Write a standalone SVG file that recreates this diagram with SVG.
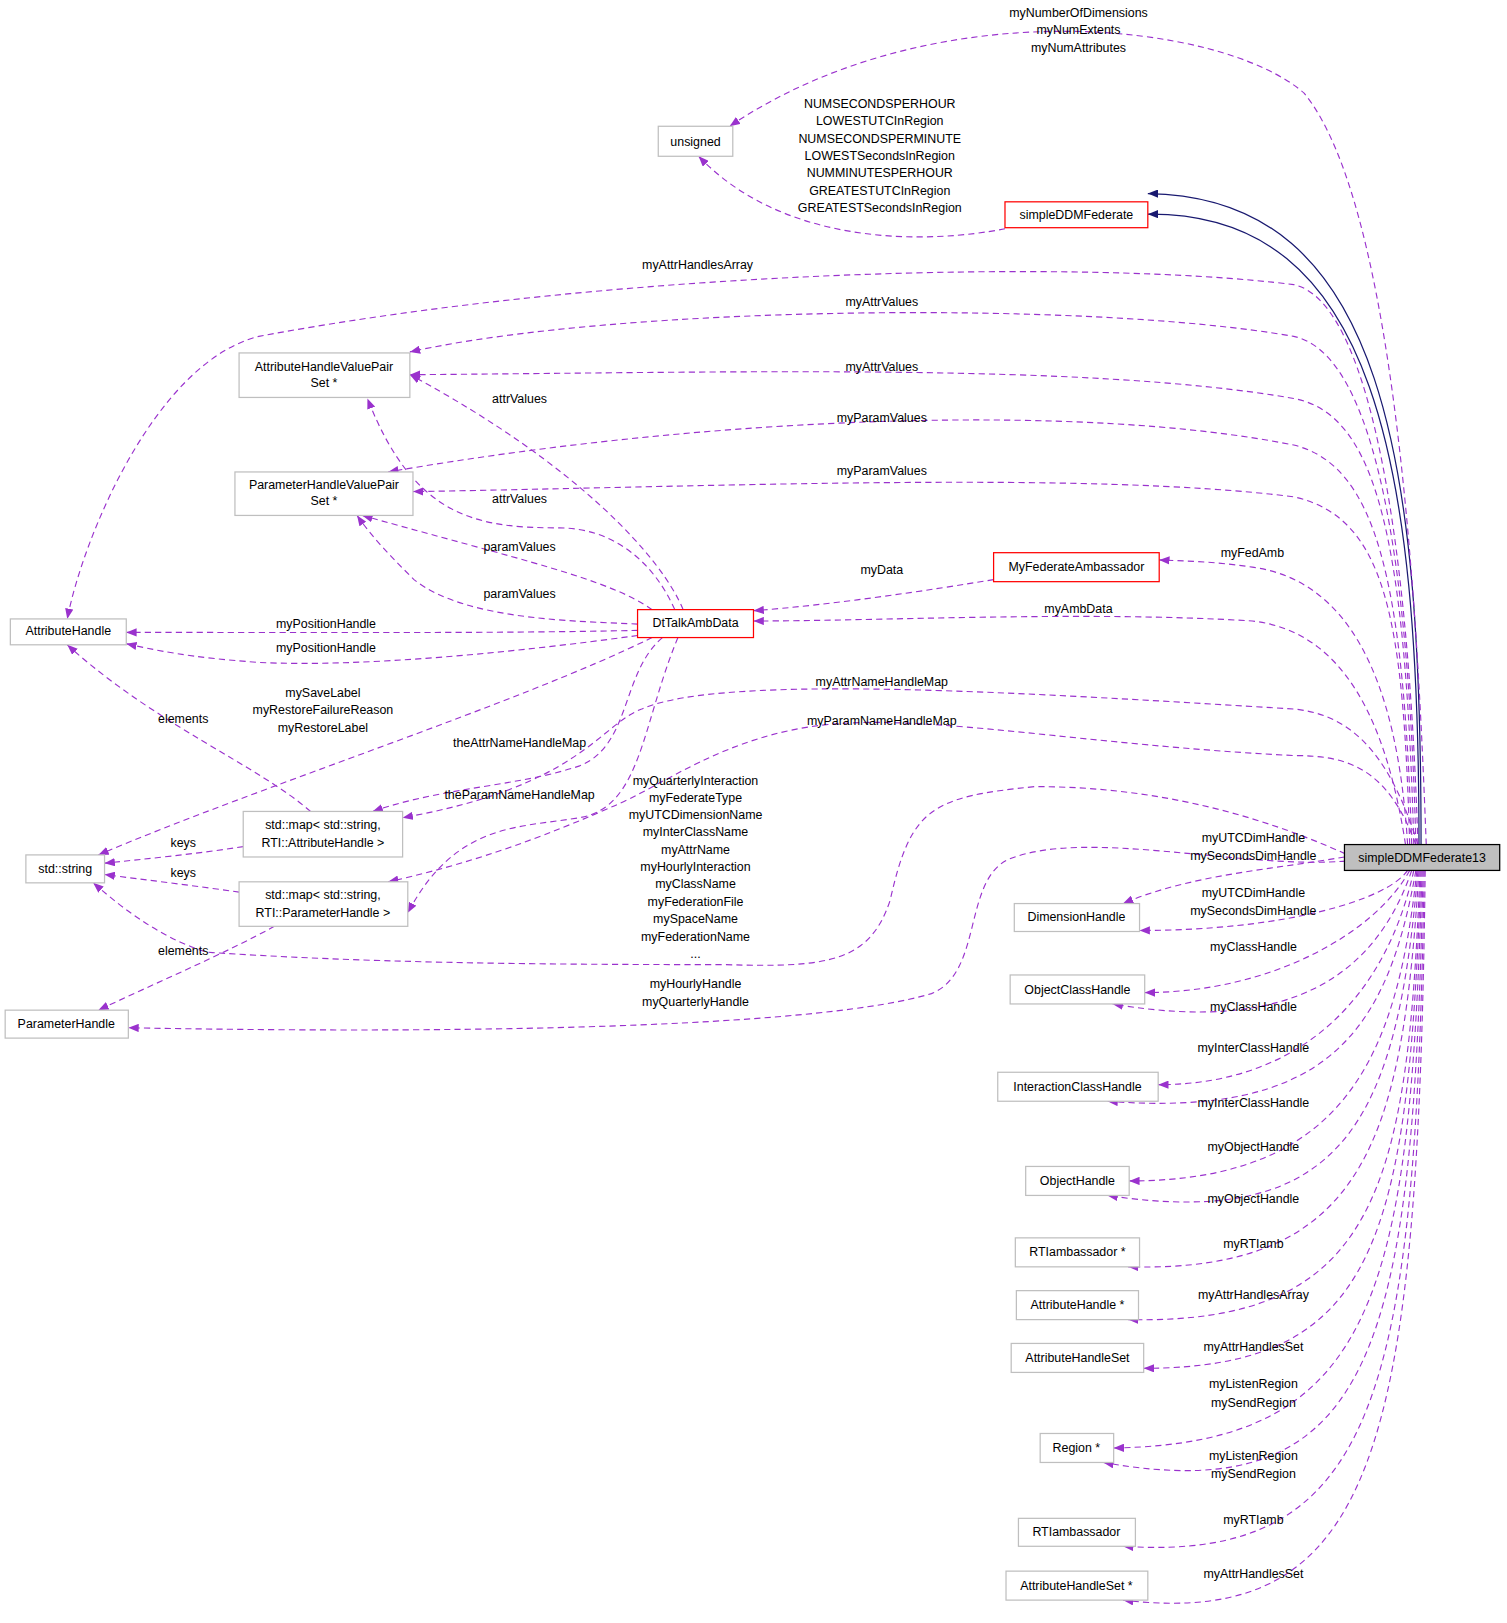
<svg xmlns="http://www.w3.org/2000/svg" width="1507" height="1623" viewBox="0 0 1507 1623">
<style>
text{font-family:"Liberation Sans",Arial,sans-serif;font-size:12px;fill:#000;text-anchor:middle}
.n{fill:#fff;stroke:#bfbfbf;stroke-width:1.2}
.r{fill:#fff;stroke:#ff0000;stroke-width:1.2}
.e{fill:none;stroke:#9a32cd;stroke-width:1.1;stroke-dasharray:6,4;marker-end:url(#pa)}
.s{fill:none;stroke:#191970;stroke-width:1.2;marker-end:url(#na)}
</style>
<defs>
<marker id="pa" markerUnits="userSpaceOnUse" markerWidth="11" markerHeight="8" refX="10" refY="4" orient="auto"><path d="M0,0 L10,4 L0,8 z" fill="#9a32cd"/></marker>
<marker id="na" markerUnits="userSpaceOnUse" markerWidth="11" markerHeight="8" refX="10" refY="4" orient="auto"><path d="M0,0 L10,4 L0,8 z" fill="#191970"/></marker>
</defs>
<g transform="scale(1.035)">
<g id="edges">
<path class="s" d="M1373,816 C1373,450 1340,190 1109,187"/>
<path class="s" d="M1371,816 C1371,450 1330,205 1109,207"/>
<path class="e" d="M1378,816 C1370,600 1350,200 1260,90 C1180,20 900,-10 705,122"/>
<path class="e" d="M971,221 C900,235 760,240 675,151"/>
<path class="e" d="M1370,816 C1360,500 1320,290 1250,275 C1050,250 600,260 250,325 C150,350 80,520 65,598"/>
<path class="e" d="M1368,816 C1360,500 1320,340 1250,325 C1050,290 600,295 396,340"/>
<path class="e" d="M1366,816 C1358,520 1330,400 1250,385 C1050,350 700,360 396,362"/>
<path class="e" d="M1364,816 C1356,560 1330,450 1250,430 C1050,390 700,400 375,456"/>
<path class="e" d="M1362,816 C1356,600 1340,500 1250,480 C1050,455 700,470 399,475"/>
<path class="e" d="M1360,816 C1350,650 1300,560 1210,548 C1170,542 1140,542 1120,541"/>
<path class="e" d="M1358,816 C1340,700 1300,610 1210,600 C1050,590 850,600 728,600"/>
<path class="e" d="M960,560 C900,570 800,585 728,590"/>
<path class="e" d="M660,589 C640,540 560,450 396,362"/>
<path class="e" d="M652,589 C630,540 590,510 540,510 C460,510 400,500 355,385"/>
<path class="e" d="M630,589 C590,560 500,540 350,498"/>
<path class="e" d="M616,603 C560,600 450,600 400,560 C380,540 360,520 345,498"/>
<path class="e" d="M616,609 C500,612 300,611 122,611"/>
<path class="e" d="M616,614 C500,630 350,645 250,640 C180,635 150,628 122,622"/>
<path class="e" d="M630,616 C500,680 250,760 95,826"/>
<path class="e" d="M640,616 C600,650 610,720 560,740 C500,760 430,760 360,784"/>
<path class="e" d="M655,616 C620,700 620,780 560,790 C500,800 440,795 394,882"/>
<path class="e" d="M1370,816 C1340,720 1300,690 1250,685 C1000,670 700,650 620,685 C580,700 560,760 389,790"/>
<path class="e" d="M1368,816 C1340,740 1300,730 1250,730 C1050,720 900,690 800,700 C700,710 640,760 590,780 C500,820 430,840 375,852"/>
<path class="e" d="M300,784 C250,740 150,700 65,623"/>
<path class="e" d="M235,818 C190,825 140,830 101,834"/>
<path class="e" d="M231,862 C190,856 140,850 101,845"/>
<path class="e" d="M265,895 C220,920 150,950 95,976"/>
<path class="e" d="M1300,825 C1200,780 1100,760 1000,760 C900,770 880,780 860,870 C840,930 800,935 700,932 C500,932 350,930 200,920 C150,905 110,870 90,853"/>
<path class="e" d="M1300,832 C1200,840 1050,800 975,830 C930,850 950,940 900,960 C800,990 500,1000 124,993"/>
<path class="e" d="M1299,828 C1230,840 1150,845 1085,873"/>
<path class="e" d="M1360,841 C1340,870 1240,899 1101,899"/>
<path class="e" d="M1362,841 C1330,900 1230,959 1106,959"/>
<path class="e" d="M1364,841 C1330,940 1250,1000 1075,970"/>
<path class="e" d="M1366,841 C1340,960 1260,1048 1119,1048"/>
<path class="e" d="M1368,841 C1340,1000 1280,1080 1070,1064"/>
<path class="e" d="M1369,841 C1350,1020 1300,1141 1091,1141"/>
<path class="e" d="M1370,841 C1350,1080 1300,1190 1070,1155"/>
<path class="e" d="M1371,841 C1355,1100 1320,1230 1090,1224"/>
<path class="e" d="M1372,841 C1360,1150 1330,1280 1090,1275"/>
<path class="e" d="M1373,841 C1360,1200 1330,1322 1105,1322"/>
<path class="e" d="M1374,841 C1362,1250 1330,1395 1076,1399"/>
<path class="e" d="M1375,841 C1365,1300 1330,1460 1066,1413"/>
<path class="e" d="M1376,841 C1368,1350 1330,1510 1085,1494"/>
<path class="e" d="M1377,841 C1370,1400 1330,1575 1085,1546"/>
</g>
<g id="elabels">
<text x="1042" y="16">myNumberOfDimensions</text><text x="1042" y="33">myNumExtents</text><text x="1042" y="50">myNumAttributes</text>
<text x="850" y="104">NUMSECONDSPERHOUR</text><text x="850" y="121">LOWESTUTCInRegion</text><text x="850" y="138">NUMSECONDSPERMINUTE</text><text x="850" y="155">LOWESTSecondsInRegion</text><text x="850" y="171">NUMMINUTESPERHOUR</text><text x="850" y="188">GREATESTUTCInRegion</text><text x="850" y="205">GREATESTSecondsInRegion</text>
<text x="674" y="260">myAttrHandlesArray</text>
<text x="852" y="296">myAttrValues</text><text x="852" y="358">myAttrValues</text>
<text x="852" y="408">myParamValues</text><text x="852" y="459">myParamValues</text>
<text x="1210" y="538">myFedAmb</text><text x="1042" y="592">myAmbData</text><text x="852" y="555">myData</text>
<text x="502" y="389">attrValues</text><text x="502" y="486">attrValues</text>
<text x="502" y="532">paramValues</text><text x="502" y="578">paramValues</text>
<text x="315" y="607">myPositionHandle</text><text x="315" y="630">myPositionHandle</text>
<text x="312" y="673">mySaveLabel</text><text x="312" y="690">myRestoreFailureReason</text><text x="312" y="707">myRestoreLabel</text>
<text x="177" y="699">elements</text><text x="502" y="722">theAttrNameHandleMap</text><text x="502" y="772">theParamNameHandleMap</text>
<text x="852" y="663">myAttrNameHandleMap</text><text x="852" y="700">myParamNameHandleMap</text>
<text x="177" y="818">keys</text><text x="177" y="847">keys</text><text x="177" y="923">elements</text>
<text x="672" y="758">myQuarterlyInteraction</text><text x="672" y="775">myFederateType</text><text x="672" y="791">myUTCDimensionName</text><text x="672" y="808">myInterClassName</text><text x="672" y="825">myAttrName</text><text x="672" y="842">myHourlyInteraction</text><text x="672" y="858">myClassName</text><text x="672" y="875">myFederationFile</text><text x="672" y="892">mySpaceName</text><text x="672" y="909">myFederationName</text><text x="672" y="926">...</text>
<text x="672" y="955">myHourlyHandle</text><text x="672" y="972">myQuarterlyHandle</text>
<text x="1211" y="814">myUTCDimHandle</text><text x="1211" y="831">mySecondsDimHandle</text>
<text x="1211" y="867">myUTCDimHandle</text><text x="1211" y="884">mySecondsDimHandle</text>
<text x="1211" y="919">myClassHandle</text><text x="1211" y="977">myClassHandle</text>
<text x="1211" y="1016">myInterClassHandle</text><text x="1211" y="1070">myInterClassHandle</text>
<text x="1211" y="1112">myObjectHandle</text><text x="1211" y="1162">myObjectHandle</text>
<text x="1211" y="1206">myRTIamb</text><text x="1211" y="1255">myAttrHandlesArray</text><text x="1211" y="1305">myAttrHandlesSet</text>
<text x="1211" y="1341">myListenRegion</text><text x="1211" y="1359">mySendRegion</text>
<text x="1211" y="1411">myListenRegion</text><text x="1211" y="1428">mySendRegion</text>
<text x="1211" y="1472">myRTIamb</text><text x="1211" y="1525">myAttrHandlesSet</text>
</g>
<g id="root"><rect x="1299" y="816" width="150" height="25" fill="#bfbfbf" stroke="#000" stroke-width="1.2"/><text x="1374" y="833">simpleDDMFederate13</text></g>
<g id="unsigned"><rect class="n" x="636" y="122" width="72" height="29"/><text x="672" y="141">unsigned</text></g>
<g id="simpleDDMFederate"><rect class="r" x="971" y="195" width="138" height="25"/><text x="1040" y="212">simpleDDMFederate</text></g>
<g id="ahvp"><rect class="n" x="231" y="341" width="165" height="43"/><text x="313" y="358">AttributeHandleValuePair</text><text x="313" y="374">Set *</text></g>
<g id="phvp"><rect class="n" x="227" y="456" width="172" height="42"/><text x="313" y="472">ParameterHandleValuePair</text><text x="313" y="488">Set *</text></g>
<g id="myfedamb"><rect class="r" x="960" y="534" width="160" height="28"/><text x="1040" y="552">MyFederateAmbassador</text></g>
<g id="attributehandle"><rect class="n" x="10" y="598" width="112" height="25"/><text x="66" y="614">AttributeHandle</text></g>
<g id="dttalk"><rect class="r" x="616" y="589" width="112" height="27"/><text x="672" y="606">DtTalkAmbData</text></g>
<g id="stdstring"><rect class="n" x="25" y="826" width="76" height="27"/><text x="63" y="843">std::string</text></g>
<g id="mapattr"><rect class="n" x="235" y="784" width="154" height="44"/><text x="312" y="801">std::map&lt; std::string,</text><text x="312" y="818">RTI::AttributeHandle &gt;</text></g>
<g id="mapparam"><rect class="n" x="231" y="852" width="163" height="43"/><text x="312" y="869">std::map&lt; std::string,</text><text x="312" y="886">RTI::ParameterHandle &gt;</text></g>
<g id="parameterhandle"><rect class="n" x="5" y="976" width="119" height="27"/><text x="64" y="993">ParameterHandle</text></g>
<g id="dimensionhandle"><rect class="n" x="980" y="873" width="121" height="27"/><text x="1040" y="890">DimensionHandle</text></g>
<g id="objectclasshandle"><rect class="n" x="976" y="942" width="130" height="28"/><text x="1041" y="960">ObjectClassHandle</text></g>
<g id="interactionclasshandle"><rect class="n" x="964" y="1036" width="155" height="28"/><text x="1041" y="1054">InteractionClassHandle</text></g>
<g id="objecthandle"><rect class="n" x="991" y="1127" width="100" height="28"/><text x="1041" y="1145">ObjectHandle</text></g>
<g id="rtiambptr"><rect class="n" x="981" y="1196" width="120" height="28"/><text x="1041" y="1214">RTIambassador *</text></g>
<g id="attrhandleptr"><rect class="n" x="982" y="1247" width="118" height="28"/><text x="1041" y="1265">AttributeHandle *</text></g>
<g id="attrhandleset"><rect class="n" x="977" y="1298" width="128" height="28"/><text x="1041" y="1316">AttributeHandleSet</text></g>
<g id="regionptr"><rect class="n" x="1005" y="1385" width="71" height="28"/><text x="1040" y="1403">Region *</text></g>
<g id="rtiamb"><rect class="n" x="984" y="1467" width="113" height="27"/><text x="1040" y="1484">RTIambassador</text></g>
<g id="attrhandlesetptr"><rect class="n" x="972" y="1518" width="137" height="28"/><text x="1040" y="1536">AttributeHandleSet *</text></g>
</g>
</svg>
